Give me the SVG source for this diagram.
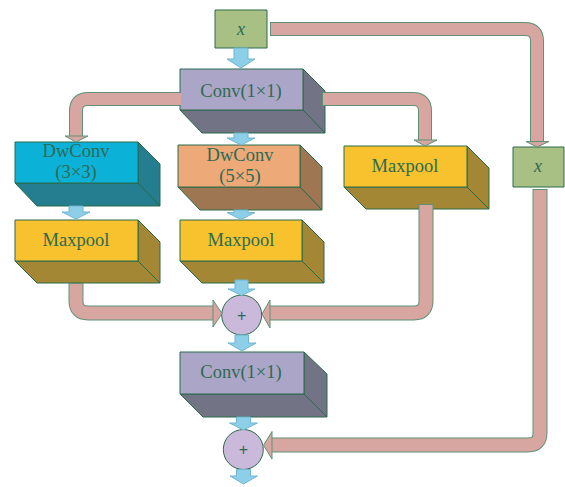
<svg xmlns="http://www.w3.org/2000/svg" width="565" height="487" viewBox="0 0 565 487">
<style>
  .lbl{font-family:"Liberation Serif","Times New Roman",serif;font-size:18.5px;fill:#2E6A52;text-anchor:middle}
  .xl{font-family:"Liberation Serif","Times New Roman",serif;font-size:18px;font-style:italic;fill:#2E6A52;text-anchor:middle}
  .plus{font-family:"Liberation Sans",Arial,sans-serif;font-size:16px;fill:#2E6A52;text-anchor:middle}
  .edge{stroke:#2A6A4A;stroke-width:1;stroke-linejoin:round}
  .pinkO{fill:none;stroke:#5E9277;stroke-linejoin:round}
  .pinkI{fill:none;stroke:#D8A6A0;stroke-linejoin:round}
  .pinkH{fill:#D8A6A0;stroke:#5E9277;stroke-width:1;stroke-linejoin:round}
  .blue{fill:#8DCFE8;stroke:#6FB6CE;stroke-width:1;stroke-linejoin:round}
  .circ{fill:#CBB9DB;stroke:#2A6A4A;stroke-width:1}
</style>

<g id="x-top">
  <rect class="edge" x="215" y="10" width="52" height="38" fill="#A8C084"/>
  <text class="xl" x="241" y="35">x</text>
</g>

<g id="x-right">
  <rect class="edge" x="513" y="147" width="51" height="40" fill="#A8C084"/>
  <text class="xl" x="538" y="172">x</text>
</g>

<g id="conv1">
  <polygon class="edge" points="303,69 325,91 325,133 303,110" fill="#737386"/>
  <polygon class="edge" points="180,110 303,110 325,133 202,133" fill="#737386"/>
  <rect class="edge" x="180" y="69" width="123" height="41" fill="#ABA6C8"/>
  <text class="lbl" x="241" y="97">Conv(1×1)</text>
</g>

<g id="dwconv3">
  <polygon class="edge" points="138,142 160,164 160,206 138,183" fill="#247E8F"/>
  <polygon class="edge" points="15,183 138,183 160,206 37,206" fill="#247E8F"/>
  <rect class="edge" x="15" y="142" width="123" height="41" fill="#0CB1D8"/>
  <text class="lbl" x="76" y="157">DwConv</text>
  <text class="lbl" x="76" y="178">(3×3)</text>
</g>

<g id="dwconv5">
  <polygon class="edge" points="300,145 322,167 322,210 300,187" fill="#9E7651"/>
  <polygon class="edge" points="178,187 300,187 322,210 200,210" fill="#9E7651"/>
  <rect class="edge" x="178" y="145" width="122" height="42" fill="#EDA978"/>
  <text class="lbl" x="240" y="161">DwConv</text>
  <text class="lbl" x="240" y="182">(5×5)</text>
</g>

<g id="maxpool-right">
  <polygon class="edge" points="467,146 489,168 489,209 467,187" fill="#A38735"/>
  <polygon class="edge" points="344,187 467,187 489,209 366,209" fill="#A38735"/>
  <rect class="edge" x="344" y="146" width="123" height="41" fill="#F7C22D"/>
  <text class="lbl" x="405" y="172">Maxpool</text>
</g>

<g id="maxpool-left">
  <polygon class="edge" points="138,220 160,242 160,283 138,261" fill="#A38735"/>
  <polygon class="edge" points="15,261 138,261 160,283 37,283" fill="#A38735"/>
  <rect class="edge" x="15" y="220" width="123" height="41" fill="#F7C22D"/>
  <text class="lbl" x="76" y="246">Maxpool</text>
</g>

<g id="maxpool-mid">
  <polygon class="edge" points="302,220 324,242 324,283 302,261" fill="#A38735"/>
  <polygon class="edge" points="180,261 302,261 324,283 202,283" fill="#A38735"/>
  <rect class="edge" x="180" y="220" width="122" height="41" fill="#F7C22D"/>
  <text class="lbl" x="241" y="246">Maxpool</text>
</g>

<g id="add1">
  <circle class="circ" cx="241.7" cy="315" r="20"/>
  <text class="plus" x="241.7" y="320.5">+</text>
</g>

<g id="conv2">
  <polygon class="edge" points="304,352 327,374 327,417 304,394" fill="#737386"/>
  <polygon class="edge" points="180,394 304,394 327,417 203,417" fill="#737386"/>
  <rect class="edge" x="180" y="352" width="124" height="42" fill="#ABA6C8"/>
  <text class="lbl" x="241" y="378">Conv(1×1)</text>
</g>

<g id="add2">
  <circle class="circ" cx="243.3" cy="449.5" r="20"/>
  <text class="plus" x="243.3" y="455">+</text>
</g>

<g id="connectors">
  <!-- pink skip: top x to right x -->
  <path class="pinkO" stroke-width="14" d="M270,29 H525 Q537,29 537,41 V142"/>
  <path class="pinkI" stroke-width="12" d="M271,29 H525 Q537,29 537,41 V143"/>
  <polygon class="pinkH" points="526,141.5 549,141.5 537,147"/>
  <!-- pink conv1 left branch -->
  <path class="pinkO" stroke-width="14" d="M180,99 H88 Q76,99 76,111 V136"/>
  <path class="pinkI" stroke-width="12" d="M181,99 H88 Q76,99 76,111 V137"/>
  <polygon class="pinkH" points="65,136 88,136 76,142"/>
  <!-- pink conv1 right branch -->
  <path class="pinkO" stroke-width="14" d="M322,99 H413 Q425,99 425,111 V140"/>
  <path class="pinkI" stroke-width="12" d="M323,99 H413 Q425,99 425,111 V141"/>
  <polygon class="pinkH" points="414,140 437,140 425,146"/>
  <!-- pink maxpool left to add1 -->
  <path class="pinkO" stroke-width="15" d="M76,283 V301 Q76,313 88,313 H214"/>
  <path class="pinkI" stroke-width="13" d="M76,284 V301 Q76,313 88,313 H215"/>
  <polygon class="pinkH" points="213,300 213,327 222,313.5"/>
  <!-- pink maxpool right to add1 -->
  <path class="pinkO" stroke-width="15" d="M426,204 V301 Q426,313 414,313 H269"/>
  <path class="pinkI" stroke-width="13" d="M426,205 V301 Q426,313 414,313 H268"/>
  <polygon class="pinkH" points="270,300 270,328 262,314"/>
  <!-- pink right x to add2 -->
  <path class="pinkO" stroke-width="15" d="M540,189 V433 Q540,445 528,445 H271"/>
  <path class="pinkI" stroke-width="13" d="M540,190 V433 Q540,445 528,445 H270"/>
  <polygon class="pinkH" points="272,431.5 272,459 263.5,445.3"/>

  <!-- blue arrows -->
  <polygon class="blue" points="234,48 248,48 248,59 255,59 241,68 227,59 234,59"/>
  <polygon class="blue" points="234,133 248,133 248,138 255,138 241,145 227,138 234,138"/>
  <polygon class="blue" points="69,206 83,206 83,212 90,212 76,219 62,212 69,212"/>
  <polygon class="blue" points="234,210 248,210 248,212.5 255,212.5 241,219.5 227,212.5 234,212.5"/>
  <polygon class="blue" points="235,280 248,280 248,289 255,289 241.7,295.5 228,289 235,289"/>
  <polygon class="blue" points="235,335 248.5,335 248.5,343 256,343 242,351 228,343 235,343"/>
  <polygon class="blue" points="236.5,417 250.5,417 250.5,423 257.5,423 243.3,430 229.5,423 236.5,423"/>
  <polygon class="blue" points="236.5,469.5 250.5,469.5 250.5,476 257.5,476 243.5,484 230,476 236.5,476"/>
</g>
</svg>
